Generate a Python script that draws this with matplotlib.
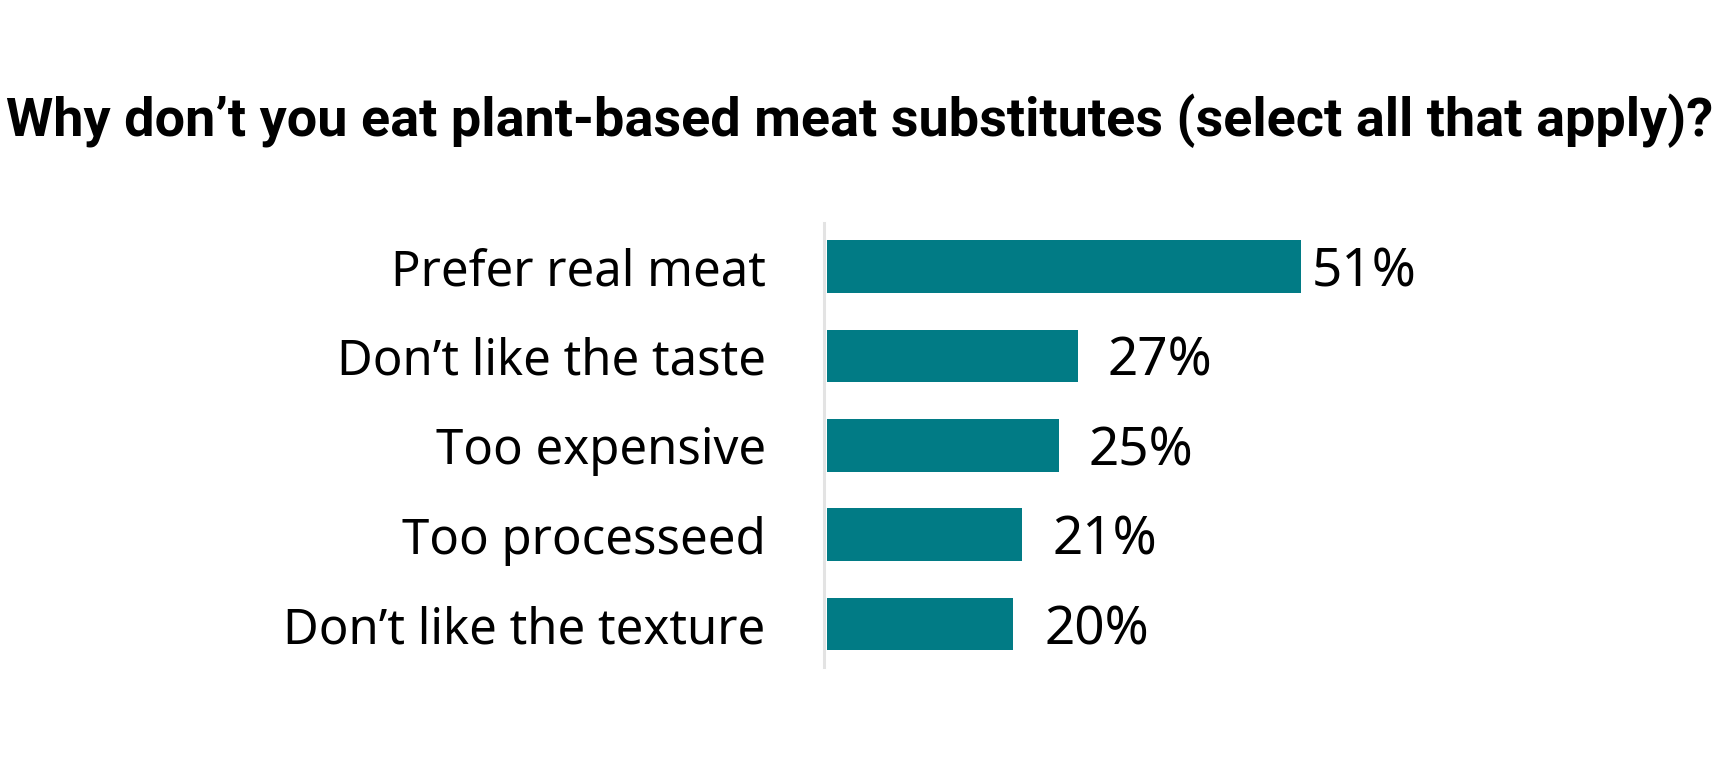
import matplotlib
matplotlib.use('Agg')
import matplotlib.pyplot as plt

# ---- data ----
categories = ["Prefer real meat", "Don’t like the taste", "Too expensive",
              "Too processeed", "Don’t like the texture"]
values = [51, 27, 25, 21, 20]
value_labels = ["51%", "27%", "25%", "21%", "20%"]
title = "Why don’t you eat plant-based meat substitutes (select all that apply)?"

# ---- style ----
W, H = 1720, 771
bar_color = '#017b85'
label_font = ['Noto Sans', 'DejaVu Sans']
title_font = ['Liberation Sans Narrow', 'Roboto', 'DejaVu Sans']
label_offsets_px = [11, 30, 29, 30, 32]

fig = plt.figure(figsize=(W / 100, H / 100), dpi=100)
fig.patch.set_facecolor('white')

px_per_unit = 9.29
ax_left, ax_top, ax_bottom = 824, 222.7, 667
ax = fig.add_axes([ax_left / W, (H - ax_bottom) / H, (W - ax_left) / W, (ax_bottom - ax_top) / H])
ypos = list(range(len(categories)))
ax.barh(ypos, values, height=0.59, color=bar_color, zorder=3)
ax.set_xlim(-3 / px_per_unit, (W - ax_left - 3) / px_per_unit)
ax.set_ylim(4.48, -0.49)

for s in ['top', 'right', 'bottom']:
    ax.spines[s].set_visible(False)
ax.spines['left'].set_color('#e3e3e3')
ax.spines['left'].set_linewidth(2.2)
ax.set_xticks([])
ax.set_yticks(ypos)
ax.set_yticklabels(categories)
ax.tick_params(axis='y', length=0, pad=42)
for t in ax.get_yticklabels():
    t.set_fontfamily(label_font)
    t.set_fontsize(36)
    t.set_color('black')

texts = []
for i, (v, lab) in enumerate(zip(values, value_labels)):
    t = ax.annotate(lab, xy=(v, i), xytext=(label_offsets_px[i] * 0.72, 0),
                    textcoords='offset points', ha='left', va='center_baseline',
                    fontsize=36, family=label_font, color='black')
    texts.append(t)

ttl = fig.text(0.5, 1 - 121 / H, title, ha='center', va='center',
               fontweight='bold', family=title_font, fontsize=34, color='black')

# fit font sizes to reference widths
fig.canvas.draw()
r = fig.canvas.get_renderer()
bb = ttl.get_window_extent(r)
ttl.set_fontsize(34 * 1706 / bb.width)
lab = ax.get_yticklabels()[4]
bb = lab.get_window_extent(r)
fs = 36 * 482 / bb.width
for t in ax.get_yticklabels():
    t.set_fontsize(fs)
bb = texts[0].get_window_extent(r)
fs2 = 36 * 105 / bb.width
for t in texts:
    t.set_fontsize(fs2)

fig.savefig('out.png', dpi=100, facecolor='white')
